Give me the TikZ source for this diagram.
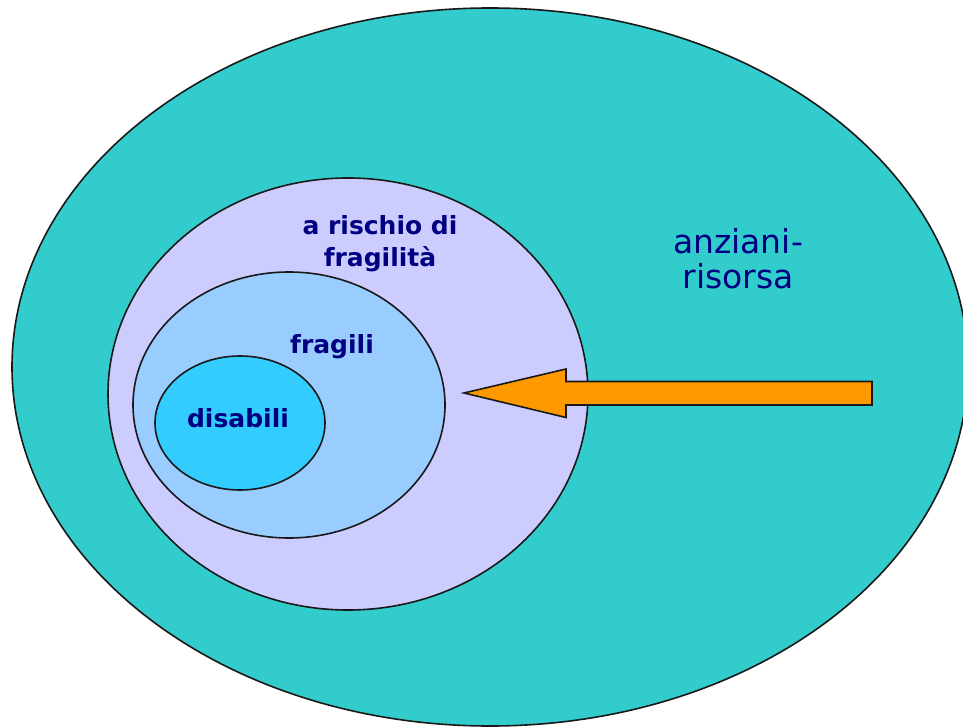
\documentclass[tikz,border=0pt]{standalone}
\usepackage{fontspec}
\setmainfont{DejaVu Sans}
\definecolor{outerc}{HTML}{33CCCC}
\definecolor{riskc}{HTML}{CCCCFF}
\definecolor{fragc}{HTML}{99CCFF}
\definecolor{disc}{HTML}{33CCFF}
\definecolor{arrc}{HTML}{FF9900}
\definecolor{txtc}{HTML}{000080}
\tikzset{
  zone/.style={draw=black!90, line width=1.6pt},
  lbl/.style={text=txtc, font=\fontsize{25}{32}\selectfont\bfseries, align=center, inner sep=0pt},
  biglbl/.style={text=txtc, font=\fontsize{33}{35}\selectfont, align=center, inner sep=0pt}
}
\begin{document}
\begin{tikzpicture}[x=1pt,y=-1pt]
\useasboundingbox (0,0) rectangle (963,727);
\fill[white] (0,0) rectangle (963,727);
\begin{scope}
\clip (0,0) rectangle (963,727);
\draw[zone, fill=outerc] (490,367) ellipse [x radius=478, y radius=359];
\end{scope}
\draw[zone, fill=riskc] (348,394) ellipse [x radius=240, y radius=216];
\draw[zone, fill=fragc] (289,405) ellipse [x radius=156, y radius=133];
\draw[zone, fill=disc] (240,423) ellipse [x radius=85, y radius=67];
\coordinate (tip) at (464,393);
\draw[zone, fill=arrc, line join=miter]
  (tip) -- (566,369) -- (566,381.5) -- (872,381.5) -- (872,405) -- (566,405) -- (566,417.5) -- cycle;
\node[lbl] (risk) at (380,244) {a rischio di\\fragilità};
\node[lbl] (frag) at (332,347) {fragili};
\node[lbl] (dis) at (238,418) {disabili};
\node[biglbl] (anz) at (738,259) {anziani-\\risorsa};
\end{tikzpicture}
\end{document}
